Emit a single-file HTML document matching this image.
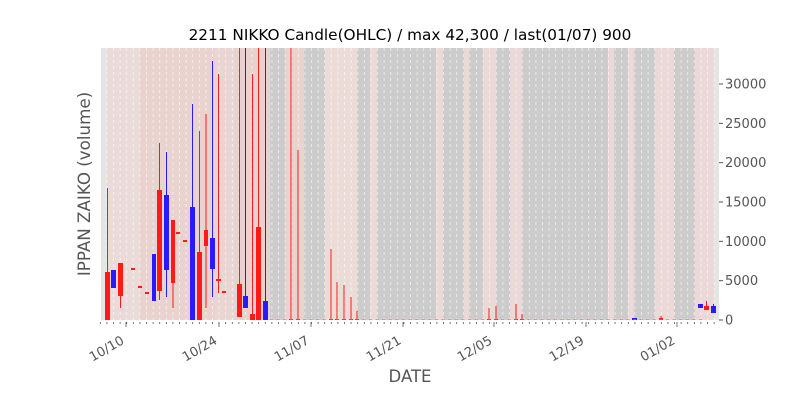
<!DOCTYPE html>
<html><head><meta charset="utf-8"><style>
body{margin:0;background:#fff;}
svg{display:block;font-family:"DejaVu Sans","Liberation Sans",sans-serif;}
</style></head><body>
<svg id="s" width="800" height="400" xmlns="http://www.w3.org/2000/svg"></svg>
<script>
const s=document.getElementById('s');let h='';
const L=101,R=719,T=48,B=320;
const Y=v=>320-v*236/30000;
h+=`<rect x="${L}" y="${T}" width="${R-L}" height="${B-T}" fill="#ead9d6"/>`;
const bands=[[101,107,'#e5e5e5'],[107,140,'#ebdbd8'],[140,170,'#e9d3cf'],[170,215,'#ead3cf'],[215,235,'#e9d6d2'],[235,270,'#e9d1cd'],[270,285,'#cccccc'],[285,304,'#e9d3cf'],[304,325,'#cccccc'],[325,357,'#ebdcd8'],[357,370,'#cccccc'],[377,436,'#cccccc'],[443,464,'#cccccc'],[469,483,'#cccccc'],[496,510,'#cccccc'],[522,608,'#cccccc'],[614,628,'#cccccc'],[634,655,'#cccccc'],[674,695,'#cccccc'],[714,719,'#e5e5e5']];
bands.forEach(b=>h+=`<rect x="${b[0]}" y="${T}" width="${b[1]-b[0]}" height="${B-T}" fill="${b[2]}"/>`);
for(let x=100.3;x<R;x+=6.6){h+=`<line x1="${x}" y1="${T}" x2="${x}" y2="${B}" stroke="#fff" stroke-opacity="0.7" stroke-dasharray="3,3" stroke-width="0.8"/>`;h+=`<line x1="${x}" y1="${B+2}" x2="${x}" y2="${B+4}" stroke="#555" stroke-width="0.8"/>`;}
[126,219,311,403,494,586,677].forEach(x=>h+=`<line x1="${x}" y1="${B+2}" x2="${x}" y2="${B+7}" stroke="#555" stroke-width="0.8"/>`);
const C=[[105,110,272,320,188,320,'r'],[111,116,270,288,270,288,'b'],[118,123,263,296,263,308,'r'],[131,135,268,270,268,270,'r'],[138,142,286,288,286,288,'r'],[145,149,292,294,292,294,'r'],[152,156,254,301,254,301,'b'],[157,162,190,291,143,300,'r'],[164,169,195,270,152,297,'b'],[171,175,220,283,220,308,'r'],[176,180,232,234,232,234,'r'],[183,187,240,242,240,242,'r'],[190,195,207,320,104,320,'b'],[197,202,252,320,131,320,'r'],[204,208,230,246,114,308,'r'],[210,215,238,269,61,297,'b'],[216,221,279,281,74,293,'r'],[222,226,291,293,291,293,'r'],[237,242,284,317,48,317,'r'],[243,248,296,308,48,308,'b'],[250,255,314,320,74,320,'r'],[256,261,227,320,48,320,'r'],[263,268,301,320,48,320,'b'],
[289,293,319,320,48,320,'r'],[296,300,319,320,150,320,'r'],[329,333,319,320,249,320,'r'],[335,339,319,320,282,320,'r'],[342,346,319,320,285,320,'r'],[349,353,319,320,297,320,'r'],[355,359,319,320,311,320,'r'],[487,491,319,320,308,320,'r'],[494,498,319,320,306,320,'r'],[514,518,319,320,304,320,'r'],[520,524,319,320,314,320,'r'],[632,637,318,320,318,320,'b'],[659,663,318,320,316,320,'r'],[698,703,304,308,304,308,'b'],[704,709,306,310,301,310,'r'],[711,716,306,313,304,313,'b']];
C.forEach(c=>{const col=c[6]=='r'?'#ff1a1a':'#2a1aff';const m=(c[0]+c[1])/2;
h+=`<line x1="${m}" y1="${c[4]}" x2="${m}" y2="${c[5]}" stroke="${col}" stroke-width="1"/>`;
h+=`<rect x="${c[0]}" y="${c[2]}" width="${c[1]-c[0]}" height="${Math.max(1,c[3]-c[2])}" fill="${col}"/>`;});
for(let x=270;x<700;x+=6.6)h+=`<line x1="${x}" y1="319.5" x2="${x+3}" y2="319.5" stroke="#ff5a5a" stroke-opacity="0.6" stroke-width="1"/>`;
for(let v=0;v<=30000;v+=5000){const y=Y(v);h+=`<line x1="${R}" y1="${y}" x2="${R+4}" y2="${y}" stroke="#555"/><text x="${R+6}" y="${y+4.5}" font-size="13" fill="#555">${v}</text>`;}
[['10/10',126],['10/24',219],['11/07',311],['11/21',403],['12/05',494],['12/19',586],['01/02',677]].forEach(l=>h+=`<text transform="translate(${l[1]-1},${B+23}) rotate(-30)" text-anchor="end" font-size="13" fill="#555">${l[0]}</text>`);
h+=`<text x="410" y="40" text-anchor="middle" font-size="15.3" fill="#000">2211 NIKKO Candle(OHLC) / max 42,300 / last(01/07) 900</text>`;
h+=`<text x="410" y="382" text-anchor="middle" font-size="16.5" fill="#555">DATE</text>`;
h+=`<text transform="translate(90,184) rotate(-90)" text-anchor="middle" font-size="16.7" fill="#555">IPPAN ZAIKO (volume)</text>`;
s.innerHTML=h;
</script>
</body></html>
